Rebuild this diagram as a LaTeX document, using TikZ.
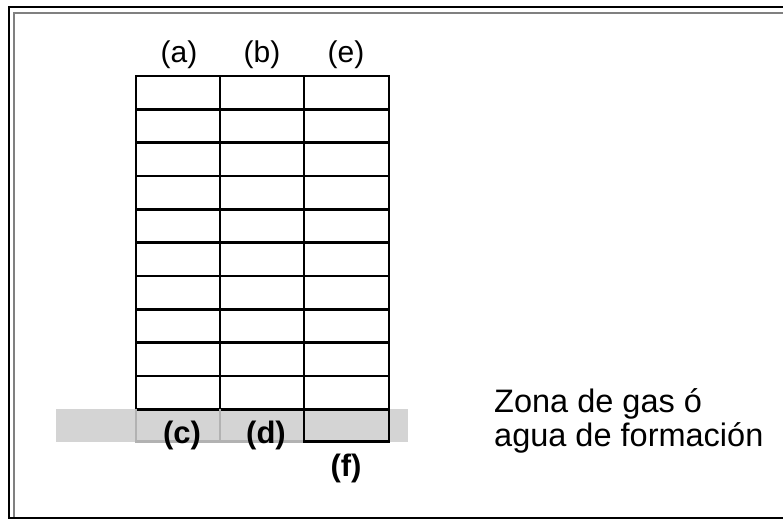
\documentclass[tikz,border=0pt]{standalone}
\usepackage{fontspec}
\setmainfont{Liberation Sans}
\begin{document}
\begin{tikzpicture}[x=1pt,y=-1pt,
  gridline/.style={draw=black,line width=2.5pt},
  softline/.style={draw=black!30,line width=2.5pt},
  toplbl/.style={font=\fontsize{30}{33}\selectfont,inner sep=0pt,anchor=base},
  botlbl/.style={font=\fontsize{31}{34}\selectfont\bfseries,inner sep=0pt,anchor=base},
  zonetext/.style={font=\fontsize{32.5}{35}\selectfont,inner sep=0pt,anchor=base west}]
\useasboundingbox (0,0) rectangle (783,519);
% outer frame
\draw[black,line width=2pt] (800,7.5) -- (8.5,7.5) -- (8.5,517.5) -- (800,517.5);
\draw[black!50,line width=2pt] (800,13.5) -- (13.5,13.5) -- (13.5,517);
% shaded zone
\fill[black!17] (56,409) rectangle (408,442);
% grid
\foreach \y in {76,109.3,142.6,176,209.3,242.6,276,309.3,342.6,376,409.3}
  \draw[gridline] (136,\y) -- (389,\y);
\foreach \x in {136,220,304,389}
  \draw[gridline] (\x,75) -- (\x,409.3);
% bottom row
\draw[softline] (136,409.3) -- (136,441.5) -- (304,441.5);
\draw[softline] (220,409.3) -- (220,441.5);
\draw[gridline] (304,409.3) -- (304,442.5);
\draw[gridline] (389,409.3) -- (389,442.5);
\draw[gridline] (303,441.5) -- (390,441.5);
% labels
\node[toplbl] (a) at (179,63) {(a)};
\node[toplbl] (b) at (262,63) {(b)};
\node[toplbl] (e) at (346,63) {(e)};
\node[botlbl] (c) at (182,443) {(c)};
\node[botlbl] (d) at (266,443) {(d)};
\node[botlbl] (f) at (346,476) {(f)};
\node[zonetext] (zona1) at (494,412) {Zona de gas ó};
\node[zonetext] (zona2) at (494,446) {agua de formación};
\end{tikzpicture}
\end{document}
